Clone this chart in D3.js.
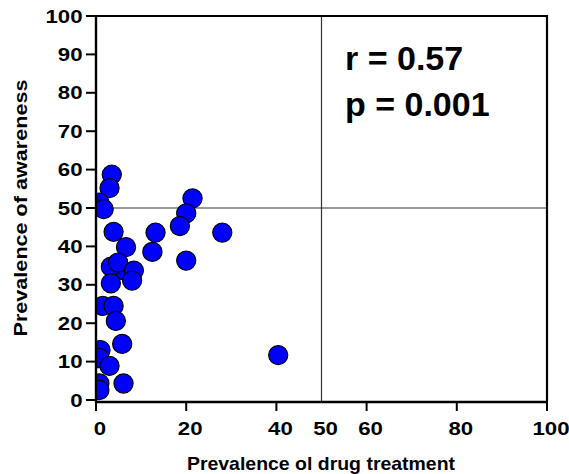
<!DOCTYPE html>
<html><head><meta charset="utf-8">
<script src="https://cdn.jsdelivr.net/npm/d3@7"></script>
<style>
body{margin:0;background:#fff;}
svg{display:block;}
text{font-family:"Liberation Sans",Arial,Helvetica,sans-serif;font-weight:bold;fill:#000;}
</style>
</head><body>
<svg id="chart" width="569" height="474"></svg>
<script>
// ---- data ----
const drugTreatment = [3.5, 3.0, 0.75, 1.7, 21.4, 20.0, 18.6, 28.0, 13.2, 3.9, 6.65, 12.5, 20.0, 5.6, 3.3, 4.9, 8.4, 8.0, 3.3, 1.5, 3.9, 4.4, 5.8, 1.0, 0.75, 3.0, 6.1, 0.75, 0.75, 40.4];
const awareness     = [58.7, 55.2, 51.4, 49.7, 52.5, 48.6, 45.3, 43.6, 43.6, 43.8, 39.8, 38.6, 36.3, 33.9, 34.7, 35.8, 33.7, 31.1, 30.4, 24.5, 24.5, 20.6, 14.6, 13.0, 10.9, 8.9, 4.3, 4.3, 2.6, 11.7];
const xTickLabels = [0, 20, 40, 50, 60, 80, 100];
const xTickMarks  = [0, 20, 40, 60, 80, 100];
const yTickValues = [0, 10, 20, 30, 40, 50, 60, 70, 80, 90, 100];
const refLineX = 50;
const refLineY = 50;
const statLines = ["r = 0.57", "p = 0.001"];
const xTitle = "Prevalence ol drug treatment";
const yTitle = "Prevalence of awareness";

// ---- layout ----
const svg = d3.select("#chart");
const L = 96, R = 547, T = 16, B = 400, axisY = 402;
const x = d3.scaleLinear().domain([0, 100]).range([L, R]);
const y = d3.scaleLinear().domain([0, 100]).range([B, T]);

function stretch(sel, f) {
  sel.each(function () {
    const n = this.getComputedTextLength();
    d3.select(this).attr("textLength", n * f).attr("lengthAdjust", "spacingAndGlyphs");
  });
}

// reference lines
svg.append("line").attr("x1", x(refLineX)).attr("x2", x(refLineX)).attr("y1", T).attr("y2", axisY)
  .attr("stroke", "#333").attr("stroke-width", 1.2);
svg.append("line").attr("x1", L).attr("x2", R).attr("y1", y(refLineY)).attr("y2", y(refLineY))
  .attr("stroke", "#333").attr("stroke-width", 1.2);

// points
svg.append("clipPath").attr("id", "plotclip").append("rect")
  .attr("x", L).attr("y", T).attr("width", R - L).attr("height", axisY - T);
const pts = drugTreatment.map((d, i) => ({ x: d, y: awareness[i] }));
svg.append("g").attr("clip-path", "url(#plotclip)")
  .selectAll("circle").data(pts).join("circle")
  .attr("cx", d => x(d.x)).attr("cy", d => y(d.y)).attr("r", 9.6)
  .attr("fill", "#0000ff").attr("stroke", "#000").attr("stroke-width", 1.1);

// frame (top and right)
svg.append("path")
  .attr("d", `M${L},${T}H${R}V${axisY}`)
  .attr("fill", "none").attr("stroke", "#000").attr("stroke-width", 2.2);

// y axis
svg.append("line").attr("x1", L).attr("x2", L).attr("y1", T - 1).attr("y2", axisY + 1)
  .attr("stroke", "#000").attr("stroke-width", 2.4);
const yt = svg.append("g");
yt.selectAll("line").data(yTickValues).join("line")
  .attr("x1", L - 10).attr("x2", L).attr("y1", d => y(d)).attr("y2", d => y(d))
  .attr("stroke", "#000").attr("stroke-width", 2);
yt.selectAll("text").data(yTickValues).join("text")
  .attr("x", L - 13.5).attr("y", d => y(d)).attr("dy", "0.36em")
  .attr("text-anchor", "end").attr("font-size", 18.5).text(d => d)
  .call(stretch, 1.2);

// x axis
svg.append("line").attr("x1", L).attr("x2", R + 1).attr("y1", axisY).attr("y2", axisY)
  .attr("stroke", "#000").attr("stroke-width", 2.4);
const xt = svg.append("g");
xt.selectAll("line").data(xTickMarks).join("line")
  .attr("x1", d => x(d)).attr("x2", d => x(d)).attr("y1", axisY).attr("y2", axisY + 9)
  .attr("stroke", "#000").attr("stroke-width", 2);
xt.selectAll("text").data(xTickLabels).join("text")
  .attr("x", d => x(d) + 4).attr("y", 435)
  .attr("text-anchor", "middle").attr("font-size", 18.5).text(d => d)
  .call(stretch, 1.2);

// axis titles
svg.append("text").attr("x", 321).attr("y", 469.5).attr("text-anchor", "middle")
  .attr("font-size", 17.7).text(xTitle).call(stretch, 1.1);
svg.append("text").attr("transform", "translate(27,208) rotate(-90)").attr("text-anchor", "middle")
  .attr("font-size", 18).text(yTitle).call(stretch, 1.2);

// stats
svg.selectAll("text.stat").data(statLines).join("text").attr("class", "stat")
  .attr("x", 345).attr("y", (d, i) => 70 + i * 45.5)
  .attr("font-size", 34).text(d => d);
</script>
</body></html>
